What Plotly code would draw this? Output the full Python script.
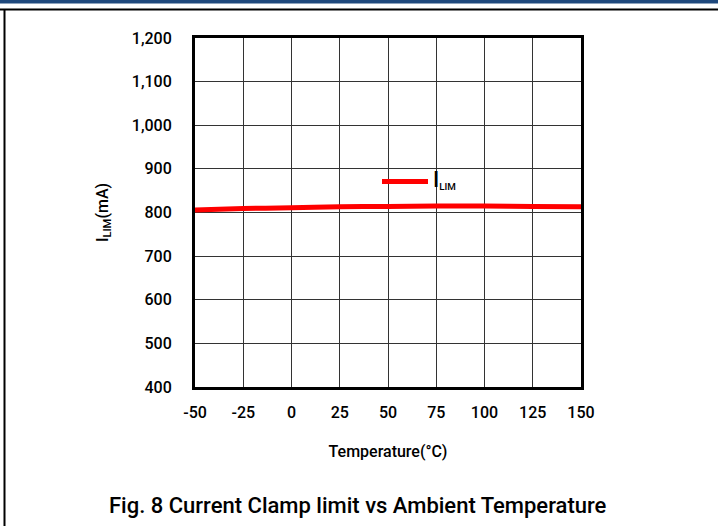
import plotly.graph_objects as go

# Current clamp limit vs ambient temperature
temperature_c = [-50, -25, 0, 25, 50, 75, 100, 125, 150]
i_lim_ma = [806, 809, 811, 813, 814, 815, 815, 814, 813]

x_ticks = [-50, -25, 0, 25, 50, 75, 100, 125, 150]
x_tick_text = ["-50", "-25", "0", "25", "50", "75", "100", "125", "150"]
y_ticks = [400, 500, 600, 700, 800, 900, 1000, 1100, 1200]
y_tick_text = ["400", "500", "600", "700", "800", "900", "1,000", "1,100", "1,200"]

FONT = "Roboto, Liberation Sans, sans-serif"

W, H = 718, 526
L, R, T, B = 195, 581, 38, 387  # plot area in pixels


def px_x(px):
    return (px - L) / (R - L)


def px_y(py):
    return (B - py) / (B - T)


fig = go.Figure()
fig.add_trace(go.Scatter(
    x=temperature_c, y=i_lim_ma, mode="lines",
    line=dict(color="#ff0000", width=5, shape="spline"),
    name="<span style='font-size:22px'>I</span><sub>LIM</sub>",
))

fig.update_layout(
    width=W, height=H,
    margin=dict(l=L, r=W - R, t=T, b=H - B, pad=0),
    paper_bgcolor="white", plot_bgcolor="white",
    font=dict(family=FONT, size=16, color="black", weight=500),
    showlegend=True,
    legend=dict(x=px_x(377), y=px_y(166), xanchor="left", yanchor="top",
                bgcolor="rgba(0,0,0,0)",
                font=dict(size=14, family=FONT, weight=500),
                itemwidth=46),
    xaxis=dict(range=[-50, 150], tickvals=x_ticks, ticktext=x_tick_text,
               showgrid=True, gridcolor="#333333", gridwidth=1, showline=True,
               linecolor="black", linewidth=3, mirror=True, zeroline=False,
               ticks="", ticklabelstandoff=9,
               tickfont=dict(size=16, family=FONT, weight=500),
               title=dict(text="Temperature(°C)", standoff=25,
                          font=dict(size=16, family=FONT, weight=500))),
    yaxis=dict(range=[400, 1200], tickvals=y_ticks, ticktext=y_tick_text,
               showgrid=True, gridcolor="#333333", gridwidth=1, showline=True,
               linecolor="black", linewidth=3, mirror=True, zeroline=False,
               ticks="", ticklabelstandoff=17,
               tickfont=dict(size=16, family=FONT, weight=500),
               title=dict(text="I<sub>LIM</sub>(mA)", standoff=20,
                          font=dict(size=16, family=FONT, weight=500))),
)

# Page frame: blue header band, black rule beneath it, left margin rule
fig.add_shape(type="rect", xref="paper", yref="paper",
              x0=px_x(0), x1=px_x(W), y0=px_y(0), y1=px_y(3.5),
              fillcolor="#1f497d", line_width=0, layer="above")
fig.add_shape(type="line", xref="paper", yref="paper",
              x0=px_x(0), x1=px_x(W), y0=px_y(9.5), y1=px_y(9.5),
              line=dict(color="black", width=2))
fig.add_shape(type="line", xref="paper", yref="paper",
              x0=px_x(4.5), x1=px_x(4.5), y0=px_y(9.5), y1=px_y(H),
              line=dict(color="black", width=2))

fig.add_annotation(text="Fig. 8 Current Clamp limit vs Ambient Temperature",
                   xref="paper", yref="paper", x=px_x(358), y=px_y(505),
                   xanchor="center", yanchor="middle", showarrow=False,
                   font=dict(size=22, family=FONT, color="black", weight=500))

fig.write_html("out.html")
